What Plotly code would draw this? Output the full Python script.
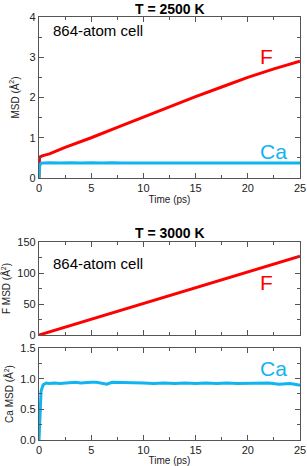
import plotly.graph_objects as go

# ---- data ----
t_f1 = [0, 0.05, 0.3, 1, 2.5, 5, 7.5, 10, 12.5, 15, 17.5, 20, 22.5, 25]
msd_f1 = [0, 0.52, 0.55, 0.6, 0.76, 1.0, 1.26, 1.52, 1.77, 2.02, 2.26, 2.5, 2.71, 2.9]

t_ca1 = [0, 0.05, 0.2, 1, 2, 3, 4, 5, 6, 7, 8, 9, 10, 11, 12, 13, 14, 15, 16, 17, 18, 19, 20, 21, 22, 23, 24, 25]
msd_ca1 = [0, 0.3, 0.37, 0.38, 0.37, 0.38, 0.37, 0.38, 0.37, 0.38, 0.37, 0.37, 0.38, 0.37, 0.38, 0.37, 0.37,
           0.38, 0.37, 0.37, 0.38, 0.37, 0.37, 0.38, 0.37, 0.37, 0.37, 0.37]

t_f2 = [0, 5, 10, 15, 20, 25]
msd_f2 = [0, 25.5, 51, 76, 101.5, 127]

t_ca2 = [0, 0.1, 0.2, 0.4, 0.7, 1, 1.5, 2, 2.5, 3, 3.5, 4, 4.5, 5, 5.5, 6, 6.5, 7, 7.5, 8, 8.5, 9, 9.5, 10,
         11, 12, 13, 14, 15, 16, 17, 18, 19, 20, 21, 22, 23, 24, 24.5, 25]
msd_ca2 = [0, 0.5, 0.8, 0.9, 0.93, 0.92, 0.93, 0.92, 0.93, 0.93, 0.94, 0.93, 0.94, 0.94, 0.94, 0.93, 0.91, 0.94,
           0.94, 0.93, 0.94, 0.93, 0.93, 0.93, 0.92, 0.93, 0.92, 0.93, 0.92, 0.93, 0.92, 0.93, 0.92, 0.92, 0.92,
           0.93, 0.91, 0.92, 0.91, 0.89]

titles = ["T = 2500 K", "T = 3000 K"]
x_ticks = [0, 5, 10, 15, 20, 25]

RED = "#ff0000"
BLUE = "#10b4f0"
FONT = "Liberation Sans, Arial, sans-serif"
AX = "#555555"

fig = go.Figure()
fig.add_trace(go.Scatter(x=t_f1, y=msd_f1, mode="lines", line=dict(color=RED, width=3), xaxis="x", yaxis="y"))
fig.add_trace(go.Scatter(x=t_ca1, y=msd_ca1, mode="lines", line=dict(color=BLUE, width=3), xaxis="x", yaxis="y"))
fig.add_trace(go.Scatter(x=t_f2, y=msd_f2, mode="lines", line=dict(color=RED, width=3), xaxis="x2", yaxis="y2"))
fig.add_trace(go.Scatter(x=t_ca2, y=msd_ca2, mode="lines", line=dict(color=BLUE, width=3), xaxis="x3", yaxis="y3"))

axis_common = dict(showline=True, linecolor=AX, linewidth=1.3, mirror="ticks",
                   ticks="inside", ticklen=5, tickcolor=AX, tickwidth=1,
                   showgrid=False, zeroline=False, automargin=False,
                   tickfont=dict(family=FONT, size=11, color="#222"))

def xax(anchor, show_labels, title=None):
    d = dict(axis_common)
    d.update(range=[0, 25], tickvals=x_ticks, showticklabels=show_labels, anchor=anchor,
             domain=[0, 1],
             minor=dict(ticks="inside", ticklen=3, tickcolor=AX, dtick=2.5, tick0=0))
    if title:
        d["title"] = dict(text=title, font=dict(family=FONT, size=10, color="#222"), standoff=2)
    return d

def yax(rng, dtick, minor, domain, anchor, title, fmt=None, standoff=4):
    d = dict(axis_common)
    d.update(range=rng, dtick=dtick, tick0=0, domain=domain, anchor=anchor,
             minor=dict(ticks="inside", ticklen=3, tickcolor=AX, dtick=minor, tick0=0),
             title=dict(text=title, font=dict(family=FONT, size=10, color="#222"), standoff=standoff))
    if fmt:
        d["tickformat"] = fmt
    return d

fig.update_layout(
    width=307, height=466, autosize=False,
    margin=dict(l=39, r=7, t=17, b=26, autoexpand=False),
    paper_bgcolor="white", plot_bgcolor="white",
    showlegend=False,
    xaxis=xax("y", True, "Time (ps)"),
    xaxis2=xax("y2", False),
    xaxis3=xax("y3", True, "Time (ps)"),
    yaxis=yax([0, 4], 1, 0.5, [0.6194, 1.0], "x", "MSD (Å<sup>2</sup>)", standoff=8),
    yaxis2=yax([0, 150], 50, 25, [0.2482, 0.4681], "x2", "F MSD (Å<sup>2</sup>)", standoff=4),
    yaxis3=yax([0, 1.5], 0.5, 0.25, [0, 0.2175], "x3", "Ca MSD (Å<sup>2</sup>)", fmt=".1f", standoff=4),
)

fig.update_layout(annotations=[
    dict(text="<b>" + titles[0] + "</b>", x=0.5, xref="paper", y=1.0, yref="paper", yanchor="bottom", yshift=-2,
         showarrow=False, font=dict(family=FONT, size=14, color="black")),
    dict(text="<b>" + titles[1] + "</b>", x=0.5, xref="paper", y=0.4681, yref="paper", yanchor="bottom", yshift=-1,
         showarrow=False, font=dict(family=FONT, size=14, color="black")),
    dict(text="864-atom cell", x=1.15, xref="x", y=3.67, yref="y", xanchor="left", showarrow=False,
         font=dict(family=FONT, size=15, color="black")),
    dict(text="864-atom cell", x=1.15, xref="x2", y=115, yref="y2", xanchor="left", showarrow=False,
         font=dict(family=FONT, size=15, color="black")),
    dict(text="F", x=21.8, xref="x", y=3.02, yref="y", xanchor="center", showarrow=False,
         font=dict(family=FONT, size=21, color=RED)),
    dict(text="Ca", x=22.5, xref="x", y=0.67, yref="y", xanchor="center", showarrow=False,
         font=dict(family=FONT, size=21, color=BLUE)),
    dict(text="F", x=21.8, xref="x2", y=85, yref="y2", xanchor="center", showarrow=False,
         font=dict(family=FONT, size=21, color=RED)),
    dict(text="Ca", x=22.5, xref="x3", y=1.17, yref="y3", xanchor="center", showarrow=False,
         font=dict(family=FONT, size=21, color=BLUE)),
])

fig.write_html("out.html",
               config={"displayModeBar": False, "responsive": False},
               post_script="document.body.style.margin='0';document.body.style.padding='0';"
                           "document.body.style.overflow='hidden';"
                           "Plotly.relayout('{plot_id}', {width: 307, height: 466});")
